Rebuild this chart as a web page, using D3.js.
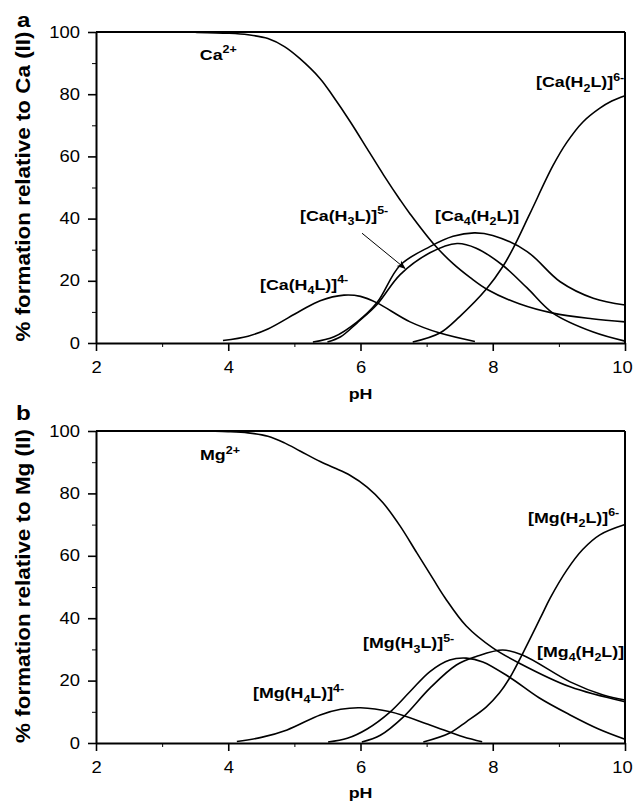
<!DOCTYPE html>
<html><head><meta charset="utf-8">
<script src="https://cdn.jsdelivr.net/npm/d3@7/dist/d3.min.js"></script>
<style>
html,body{margin:0;padding:0;background:#fff}
svg{display:block}
text{font-family:"Liberation Sans",Arial,Helvetica,sans-serif;fill:#000}
</style></head><body>
<svg id="chart" width="633" height="803"></svg>
<script>
// ---- tick values ----
const xMajor = [2, 4, 6, 8, 10];
const xMinor = [3, 5, 7, 9];
const yMajor = [0, 20, 40, 60, 80, 100];
const yMinor = [10, 30, 50, 70, 90];

// ---- panel a : Ca(II) species, [pH, % formation] ----
const caFree = [[2,100],[3,100],[3.5,99.9],[4,99.6],[4.3,99.1],[4.6,97.9],[4.85,95.3],[5.08,91.5],[5.39,85],[5.58,79.5],[5.85,71],[6.1,62.5],[6.35,54],[6.6,46],[6.75,41.5],[7.1,32],[7.4,25.5],[7.66,21],[7.91,17.3],[8.4,12.6],[8.91,9.6],[9.5,7.8],[10,6.8]];
const caH4L  = [[3.92,0.8],[4.3,2.2],[4.6,4.5],[5.08,10.2],[5.39,13.6],[5.75,15.4],[6.0,15],[6.25,12.9],[6.75,6.8],[7.2,3.2],[7.73,0.5]];
const caH3L  = [[5.5,0.3],[5.7,2],[5.95,6.5],[6.25,12.4],[6.6,22],[7.05,29],[7.46,32],[7.75,30.5],[8.15,25],[8.52,17.7],[8.91,9.6],[9.52,3.5],[10,0.6]];
const ca4H2L = [[5.28,0.3],[5.6,2],[5.95,6.8],[6.25,13],[6.6,25],[7.05,31],[7.4,34.3],[7.72,35.4],[8.0,34.6],[8.52,29.4],[9.02,19.7],[9.52,14.4],[10,12.2]];
const caH2L  = [[6.79,0.3],[7.2,3.2],[7.5,8.5],[7.91,17.5],[8.15,24.5],[8.31,30.5],[8.56,41.5],[8.91,57],[9.12,64.5],[9.36,71],[9.62,75.5],[9.8,77.8],[10,79.5]];

// ---- panel b : Mg(II) species, [pH, % formation] ----
const mgFree = [[2,100],[3.5,100],[4,99.8],[4.3,99.4],[4.6,98.3],[4.85,96.2],[5.085,93.6],[5.39,90.2],[5.6,88.2],[5.84,85.8],[6.1,82],[6.34,77],[6.6,69.5],[6.85,61],[7.1,52.5],[7.28,46.5],[7.6,37.5],[8.0,30.5],[8.41,25.5],[9.17,18],[10,13.2]];
const mgH4L  = [[4.13,0.5],[4.5,1.8],[4.89,4.2],[5.39,9],[5.7,10.8],[6.0,11.3],[6.45,10],[7.05,5.8],[7.55,2],[7.84,0.4]];
const mgH3L  = [[5.51,0.3],[5.8,1.5],[6.1,4.5],[6.45,10],[6.75,16.5],[7.05,22.9],[7.35,26.6],[7.6,27.2],[7.85,26],[8.26,21],[8.7,14.5],[9.17,9],[9.6,4.5],[10,1.2]];
const mg4H2L = [[6.02,0.3],[6.3,2.5],[6.65,8.4],[7.05,17.6],[7.45,25],[7.75,27.7],[8.15,29.8],[8.45,28.2],[9.17,19.6],[9.67,15.4],[10,13.8]];
const mgH2L  = [[6.95,0.3],[7.35,3.2],[7.6,6.8],[7.9,11.5],[8.1,16],[8.26,21],[8.46,29],[8.73,40.5],[8.87,46.5],[9.12,55.4],[9.36,62],[9.62,66.7],[10,70]];

// ---- species labels: [pH, %, parts] ----
const caLabels = [
  [3.57, 91.0, [["Ca"],["2+","sup"]]],
  [8.654, 82.2, [["[Ca(H"],["2","sub"],["L)]"],["6-","sup"]]],
  [5.085, 39.3, [["[Ca(H"],["3","sub"],["L)]"],["5-","sup"]]],
  [7.127, 39.3, [["[Ca"],["4","sub"],["(H"],["2","sub"],["L)]"]]],
  [4.48, 17.2, [["[Ca(H"],["4","sub"],["L)]"],["4-","sup"]]]
];
const mgLabels = [
  [3.573, 90.7, [["Mg"],["2+","sup"]]],
  [8.533, 70.6, [["[Mg(H"],["2","sub"],["L)]"],["6-","sup"]]],
  [6.038, 30.3, [["[Mg(H"],["3","sub"],["L)]"],["5-","sup"]]],
  [8.669, 27.7, [["[Mg"],["4","sub"],["(H"],["2","sub"],["L)]"]]],
  [4.374, 14.3, [["[Mg(H"],["4","sub"],["L)]"],["4-","sup"]]]
];
// arrow annotation in panel a: [pH, %] from -> to
const caArrow = [[6.023, 35.3], [6.673, 24.0]];

const SX = 1.15; // horizontal glyph stretch seen in the reference
const svg = d3.select("#chart");

svg.append("defs").append("marker")
  .attr("id","ah").attr("viewBox","0 0 10 10").attr("refX",9).attr("refY",5)
  .attr("markerWidth",9).attr("markerHeight",9).attr("markerUnits","userSpaceOnUse")
  .attr("orient","auto")
  .append("path").attr("d","M0,1 L10,5 L0,9 L3,5 Z").attr("fill","#000");

function label(g, px, py, parts, size, opts = {}) {
  const grp = g.append("g").attr("transform",
    `translate(${px},${py})${opts.rotate ? ` rotate(${opts.rotate})` : ""} scale(${SX},1)`);
  const t = grp.append("text").attr("font-size", size)
    .attr("font-weight", opts.weight || "bold")
    .attr("text-anchor", opts.anchor || "start");
  let cur = 0;
  parts.forEach(p => {
    const s = p[0], k = p[1] || "";
    const off = k === "sub" ? 0.28 * size : k === "sup" ? -0.42 * size : 0;
    t.append("tspan").attr("dy", off - cur).attr("font-size", k ? size * 0.7 : size).text(s);
    cur = off;
  });
  return t;
}

function panel(cfg) {
  const g = svg.append("g");
  const x = d3.scaleLinear().domain([2, 10]).range([96, 625]);
  const y = d3.scaleLinear().domain([0, 100]).range([cfg.bottom, cfg.top]);

  // curves
  const line = d3.line().x(d => x(d[0])).y(d => y(d[1])).curve(d3.curveCatmullRom.alpha(0.5));
  g.selectAll("path.curve").data(cfg.series).join("path")
    .attr("class","curve").attr("d", line)
    .attr("fill","none").attr("stroke","#000").attr("stroke-width",1.6);

  // frame top & right
  g.append("line").attr("x1", x(2)).attr("x2", x(10)).attr("y1", y(100)).attr("y2", y(100))
    .attr("stroke","#000").attr("stroke-width",2);
  g.append("line").attr("x1", x(10)).attr("x2", x(10)).attr("y1", y(100)).attr("y2", y(0))
    .attr("stroke","#000").attr("stroke-width",2);

  // minor ticks
  g.append("g").attr("transform",`translate(0,${cfg.bottom})`)
    .call(d3.axisBottom(x).tickValues(xMinor).tickSize(4).tickSizeOuter(0).tickFormat(""))
    .call(a => a.select(".domain").remove());
  g.append("g").attr("transform",`translate(${x(2)},0)`)
    .call(d3.axisLeft(y).tickValues(yMinor).tickSize(4).tickSizeOuter(0).tickFormat(""))
    .call(a => a.select(".domain").remove());

  // major axes
  const xa = g.append("g").attr("transform",`translate(0,${cfg.bottom})`)
    .call(d3.axisBottom(x).tickValues(xMajor).tickSize(8).tickSizeOuter(0).tickPadding(11).tickFormat(d3.format("d")));
  const ya = g.append("g").attr("transform",`translate(${x(2)},0)`)
    .call(d3.axisLeft(y).tickValues(yMajor).tickSize(8).tickSizeOuter(0).tickPadding(8).tickFormat(d3.format("d")));
  [xa, ya].forEach(a => {
    a.select(".domain").attr("stroke-width",2);
    a.selectAll(".tick line").attr("stroke-width",1.6);
    a.selectAll("text").attr("font-size",16).attr("font-family",null).attr("fill","#000");
  });
  g.selectAll(".tick line").attr("stroke","#000");
  xa.selectAll("text")
    .attr("x", d => d === 10 ? -3 / SX : 0)
    .attr("transform",`scale(${SX},1)`);
  ya.selectAll("text").attr("x", -16 / SX).attr("transform",`scale(${SX},1)`);

  // species labels
  cfg.labels.forEach(l => label(g, x(l[0]), y(l[1]), l[2], 15.5));

  // arrow
  if (cfg.arrow) {
    g.append("line")
      .attr("x1", x(cfg.arrow[0][0])).attr("y1", y(cfg.arrow[0][1]))
      .attr("x2", x(cfg.arrow[1][0])).attr("y2", y(cfg.arrow[1][1]))
      .attr("stroke","#000").attr("stroke-width",1).attr("marker-end","url(#ah)");
  }

  // axis titles
  label(g, (x(2) + x(10)) / 2, cfg.phBase, [["pH"]], 15.5, {anchor:"middle"});
  label(g, 30, (cfg.top + cfg.bottom) / 2 - 1, [[cfg.title]], 19.5, {anchor:"middle", rotate:-90});
  label(g, cfg.letter[1], cfg.letter[2], [[cfg.letter[0]]], 21);
}

panel({top:32, bottom:343, series:[caFree, caH4L, caH3L, ca4H2L, caH2L], labels:caLabels,
       arrow:caArrow, phBase:399, title:"% formation relative to Ca (II)", letter:["a",17,27]});
panel({top:431, bottom:743, series:[mgFree, mgH4L, mgH3L, mg4H2L, mgH2L], labels:mgLabels,
       phBase:798, title:"% formation relative to Mg (II)", letter:["b",16,420]});
</script>
</body></html>
